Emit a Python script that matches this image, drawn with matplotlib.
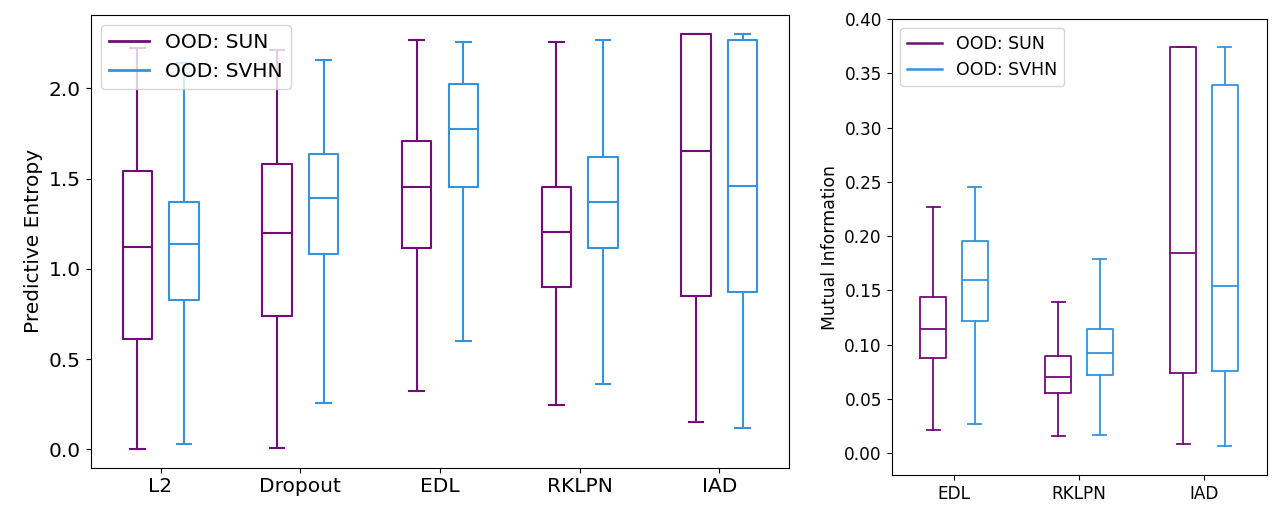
import matplotlib
matplotlib.use("Agg")
from matplotlib import pyplot as plt
from matplotlib.lines import Line2D

# left panel: predictive entropy (whislo, q1, med, q3, whishi)
methods_left = ['L2', 'Dropout', 'EDL', 'RKLPN', 'IAD']
ent_sun = [
    [0.00, 0.609, 1.123, 1.544, 2.225],
    [0.005, 0.736, 1.200, 1.583, 2.214],
    [0.321, 1.114, 1.452, 1.710, 2.270],
    [0.243, 0.897, 1.206, 1.455, 2.258],
    [0.149, 0.847, 1.651, 2.304, 2.304],
]
ent_svhn = [
    [0.028, 0.830, 1.140, 1.372, 2.142],
    [0.255, 1.085, 1.395, 1.638, 2.158],
    [0.598, 1.452, 1.775, 2.022, 2.256],
    [0.360, 1.115, 1.372, 1.618, 2.267],
    [0.116, 0.869, 1.461, 2.267, 2.304],
]

# right panel: mutual information
methods_right = ['EDL', 'RKLPN', 'IAD']
mi_sun = [
    [0.0218, 0.0881, 0.1146, 0.1438, 0.227],
    [0.0162, 0.0559, 0.0703, 0.0894, 0.1394],
    [0.0088, 0.0737, 0.1849, 0.3742, 0.3742],
]
mi_svhn = [
    [0.0267, 0.122, 0.160, 0.196, 0.245],
    [0.0172, 0.0722, 0.0927, 0.1149, 0.1788],
    [0.0065, 0.0761, 0.1542, 0.3388, 0.3742],
]

c_sun = '#730b78'
c_svhn = '#3393dc'


def stats(rows):
    return [dict(whislo=r[0], q1=r[1], med=r[2], q3=r[3], whishi=r[4], fliers=[]) for r in rows]


def draw(ax, rows, pos, color, width, lw):
    props = dict(color=color, linewidth=lw)
    ax.bxp(stats(rows), positions=pos, widths=width, showfliers=False,
           boxprops=props, whiskerprops=props, capprops=props, medianprops=props,
           manage_ticks=False)


fig = plt.figure(figsize=(12.79, 5.17), dpi=100)

ax1 = fig.add_axes([0.0709, 0.0954, 0.5462, 0.876])
n = len(methods_left)
draw(ax1, ent_sun, [i - 0.167 for i in range(n)], c_sun, 0.21, 1.5)
draw(ax1, ent_svhn, [i + 0.167 for i in range(n)], c_svhn, 0.21, 1.5)
ax1.set_xlim(-0.5, n - 0.5)
ax1.set_ylim(-0.102, 2.408)
ax1.set_xticks(range(n))
ax1.set_xticklabels(methods_left)
ax1.set_yticks([0.0, 0.5, 1.0, 1.5, 2.0])
ax1.tick_params(labelsize=14.5)
ax1.set_ylabel('Predictive Entropy', fontsize=14.5)
h = [Line2D([], [], color=c_sun, lw=2), Line2D([], [], color=c_svhn, lw=2)]
ax1.legend(h, ['OOD: SUN', 'OOD: SVHN'], loc='upper left', fontsize=14.5)

ax2 = fig.add_axes([0.6972, 0.0812, 0.2932, 0.882])
m = len(methods_right)
draw(ax2, mi_sun, [i - 0.166 for i in range(m)], c_sun, 0.208, 1.3)
draw(ax2, mi_svhn, [i + 0.166 for i in range(m)], c_svhn, 0.208, 1.3)
ax2.set_xlim(-0.5, m - 0.5)
ax2.set_ylim(-0.02, 0.40)
ax2.set_xticks(range(m))
ax2.set_xticklabels(methods_right)
ax2.set_yticks([0.0, 0.05, 0.10, 0.15, 0.20, 0.25, 0.30, 0.35, 0.40])
ax2.tick_params(labelsize=12.2)
ax2.set_ylabel('Mutual Information', fontsize=12.4)
h = [Line2D([], [], color=c_sun, lw=1.8), Line2D([], [], color=c_svhn, lw=1.8)]
ax2.legend(h, ['OOD: SUN', 'OOD: SVHN'], loc='upper left', fontsize=12.5)

plt.savefig('out.png', dpi=100)
